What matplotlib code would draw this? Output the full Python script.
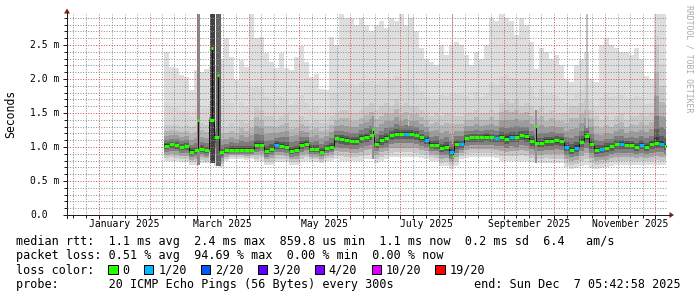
import numpy as np
import pandas as pd
import matplotlib
matplotlib.use("Agg")
import matplotlib.pyplot as plt
import matplotlib.dates as mdates
import matplotlib.transforms as mtransforms
from matplotlib.patches import Rectangle, Polygon
from matplotlib.lines import Line2D

plt.rcParams['font.family'] = ['DejaVu Sans Mono']

# graph window and sample range
t0 = "2024-12-13 00:00"
t1 = "2025-12-08 00:00"
first_bin = "2025-02-09 00:00"
last_sample = "2025-12-07 05:42:58"

# median rtt per 3-day bin (ms)
med = [1.02, 1.04, 1.03, 1.00, 1.01, 0.93, 0.95, 0.97, 0.95, 1.40,
       1.15, 0.92, 0.95, 0.96, 0.96, 0.96, 0.96, 0.96, 1.03, 1.03,
       0.94, 0.97, 1.03, 1.02, 1.00, 0.94, 0.96, 1.03, 1.05, 0.97,
       0.97, 0.93, 0.98, 1.00, 1.13, 1.12, 1.10, 1.09, 1.09, 1.13,
       1.15, 1.18, 1.05, 1.10, 1.13, 1.18, 1.19, 1.19, 1.19, 1.19,
       1.18, 1.14, 1.11, 1.03, 1.03, 0.98, 1.00, 0.92, 1.05, 1.04,
       1.13, 1.14, 1.14, 1.14, 1.15, 1.14, 1.13, 1.15, 1.12, 1.15,
       1.15, 1.18, 1.16, 1.09, 1.06, 1.06, 1.09, 1.09, 1.10, 1.09,
       1.00, 0.96, 0.99, 1.08, 1.16, 1.05, 0.96, 0.97, 0.99, 1.01,
       1.04, 1.04, 1.03, 1.03, 1.00, 1.03, 1.00, 1.04, 1.06, 1.05,
       1.01]

# fastest ping of each bin
lo = [0.80, 0.80, 0.79, 0.78, 0.78, 0.74, 0.74, 0.77, 0.76, 0.76,
      0.72, 0.70, 0.80, 0.82, 0.82, 0.82, 0.81, 0.82, 0.78, 0.80,
      0.74, 0.74, 0.78, 0.78, 0.78, 0.74, 0.74, 0.78, 0.80, 0.78,
      0.78, 0.76, 0.80, 0.80, 0.82, 0.80, 0.80, 0.79, 0.80, 0.80,
      0.82, 0.82, 0.76, 0.80, 0.82, 0.85, 0.86, 0.86, 0.86, 0.86,
      0.85, 0.84, 0.82, 0.80, 0.79, 0.72, 0.72, 0.68, 0.72, 0.82,
      0.84, 0.85, 0.85, 0.85, 0.85, 0.85, 0.84, 0.80, 0.80, 0.80,
      0.79, 0.80, 0.79, 0.78, 0.76, 0.77, 0.77, 0.76, 0.76, 0.76,
      0.70, 0.68, 0.69, 0.72, 0.74, 0.69, 0.68, 0.69, 0.70, 0.72,
      0.73, 0.73, 0.73, 0.74, 0.74, 0.73, 0.74, 0.73, 0.74, 0.73,
      0.74]

# upper edge of the dense part of the smoke
mid = [1.32, 1.33, 1.32, 1.30, 1.32, 1.30, 1.32, 1.35, 1.33, 1.45,
       1.40, 1.30, 1.30, 1.35, 1.30, 1.40, 1.35, 1.40, 1.60, 1.55,
       1.45, 1.45, 1.40, 1.45, 1.50, 1.40, 1.40, 1.45, 1.40, 1.35,
       1.40, 1.35, 1.35, 1.45, 1.50, 1.55, 1.55, 1.50, 1.50, 1.55,
       1.60, 1.65, 1.55, 1.60, 1.65, 1.60, 1.70, 1.60, 1.65, 1.60,
       1.60, 1.55, 1.50, 1.45, 1.50, 1.45, 1.50, 1.50, 1.45, 1.45,
       1.50, 1.50, 1.55, 1.50, 1.50, 1.55, 1.50, 1.65, 1.70, 1.65,
       1.70, 1.60, 1.65, 1.60, 1.55, 1.60, 1.50, 1.55, 1.50, 1.50,
       1.50, 1.60, 1.60, 1.65, 1.70, 1.55, 1.45, 1.40, 1.45, 1.40,
       1.45, 1.50, 1.40, 1.45, 1.45, 1.50, 1.45, 1.50, 2.50, 1.90,
       1.90]

# slowest ping of each bin
hi = [2.40, 2.18, 2.16, 2.06, 2.03, 1.84, 2.13, 2.11, 2.15, 2.20,
      2.20, 2.30, 2.60, 2.33, 1.98, 2.28, 2.18, 2.96, 2.60, 2.62,
      2.38, 2.25, 2.16, 2.38, 2.16, 2.13, 2.33, 2.48, 2.25, 2.03,
      2.08, 1.86, 1.84, 2.62, 2.50, 2.96, 2.90, 2.90, 2.80, 2.90,
      2.80, 2.70, 2.80, 2.85, 2.75, 2.90, 2.85, 2.96, 2.80, 2.90,
      2.70, 2.45, 2.30, 2.25, 2.20, 2.50, 2.35, 2.50, 2.55, 2.50,
      2.35, 2.20, 2.40, 2.30, 2.50, 2.90, 2.85, 2.96, 2.90, 2.85,
      2.65, 2.90, 2.80, 2.55, 2.15, 2.45, 2.40, 2.30, 2.35, 2.20,
      2.00, 1.96, 2.20, 2.30, 2.40, 2.00, 1.95, 2.50, 2.60, 2.50,
      2.45, 2.40, 2.40, 2.35, 2.45, 2.30, 2.05, 2.00, 2.96, 2.96,
      2.96]

# lost pings (of 20) per bin
loss = [0, 0, 0, 0, 0, 0, 0, 0, 0, 0,
        0, 0, 0, 0, 0, 0, 0, 0, 0, 0,
        0, 0, 1, 0, 0, 0, 0, 0, 0, 0,
        0, 0, 0, 0, 0, 0, 0, 0, 0, 0,
        0, 0, 0, 0, 0, 0, 0, 0, 1, 0,
        0, 0, 1, 0, 0, 0, 0, 1, 0, 1,
        0, 0, 0, 0, 0, 0, 1, 0, 0, 1,
        0, 0, 0, 0, 0, 0, 0, 0, 0, 0,
        1, 0, 1, 0, 0, 0, 0, 1, 0, 0,
        0, 1, 0, 0, 0, 1, 0, 0, 0, 1,
        0]

# short bursts of high latency
spike_time = ["2025-03-01 18:00", "2025-03-10 06:00", "2025-03-13 18:00",
              "2025-06-14 12:00", "2025-07-05 18:00", "2025-08-01 12:00",
              "2025-09-20 12:00", "2025-10-21 00:00"]
spike_days = [2.0, 3.0, 3.0, 1.0, 0.6, 0.6, 1.0, 1.2]
spike_med = [1.40, 2.45, 2.06, 1.27, 1.19, 0.87, 1.31, 1.19]
spike_top = [2.96, 2.96, 2.96, 1.45, 2.96, 2.96, 1.55, 2.96]
spike_n = [9, 17, 13, 8, 2, 2, 8, 3]

month_labels = ["January 2025", "March 2025", "May 2025",
                "July 2025", "September 2025", "November 2025"]
month_starts = ["2025-01-01", "2025-03-01", "2025-05-01",
                "2025-07-01", "2025-09-01", "2025-11-01"]
ytick_vals = [0.0, 0.5, 1.0, 1.5, 2.0, 2.5]
ytick_text = ["0.0", "0.5 m", "1.0 m", "1.5 m", "2.0 m", "2.5 m"]

loss_steps = [0, 1, 2, 3, 4, 10, 19]
loss_names = ["0", "1/20", "2/20", "3/20", "4/20", "10/20", "19/20"]
loss_cols = ["#26ff00", "#00b8ff", "#0059ff", "#5e00ff", "#7e00ff", "#dd00ff", "#ff0000"]

line1 = "median rtt:  1.1 ms avg  2.4 ms max  859.8 us min  1.1 ms now  0.2 ms sd  6.4   am/s"
line2 = "packet loss: 0.51 % avg  94.69 % max  0.00 % min  0.00 % now"
line4 = "probe:       20 ICMP Echo Pings (56 Bytes) every 300s"
line4r = "end: Sun Dec  7 05:42:58 2025"


def loss_color(n):
    c = loss_cols[0]
    for s, col in zip(loss_steps, loss_cols):
        if n >= s:
            c = col
    return c


def st(a):
    a = np.asarray(a, float)
    return np.append(a, a[-1])


W, H = 697, 297
fig = plt.figure(figsize=(W / 100, H / 100), dpi=100)
fig.patch.set_facecolor("white")


def fx(px):
    return px / W


def fy(py):
    return 1 - py / H


ax = fig.add_axes([fx(67), fy(215), 600 / W, 201 / H])
ax.set_facecolor("white")

edges = list(pd.date_range(first_bin, periods=len(med), freq="3D")) + [pd.Timestamp(last_sample)]
xe = mdates.date2num(edges)
m = np.asarray(med, float)
l = np.asarray(lo, float)
md = np.asarray(mid, float)
h = np.asarray(hi, float)

kw = dict(step="post", lw=0, antialiased=False)
# light outer smoke
ax.fill_between(xe, st(md + (h - md) * 0.3), st(h), color="#dedede", **kw)
ax.fill_between(xe, st(md), st(md + (h - md) * 0.3), color="#d6d6d6", **kw)

up_f = [0.06, 0.14, 0.28, 0.48, 0.72, 1.0]
up_c = ["#3a3a3a", "#5c5c5c", "#7c7c7c", "#9c9c9c", "#b6b6b6", "#cacaca"]
dn_f = [0.1, 0.22, 0.4, 0.6, 0.8, 1.0]
dn_c = ["#3a3a3a", "#5c5c5c", "#808080", "#a6a6a6", "#c6c6c6", "#dedede"]
for f, c in reversed(list(zip(up_f, up_c))):
    ax.fill_between(xe, st(m), st(m + (md - m) * f), color=c, **kw)
for f, c in reversed(list(zip(dn_f, dn_c))):
    ax.fill_between(xe, st(m - (m - l) * f), st(m), color=c, **kw)

# spikes
sx = mdates.datestr2num(spike_time)
for x, d, smed, top, n in zip(sx, spike_days, spike_med, spike_top, spike_n):
    b = int(np.searchsorted(xe, x) - 1)
    g = 0.85 - 0.035 * n
    y0 = l[b] if n >= 5 else m[b] + 0.12
    ax.fill_between([x - d / 2, x + d / 2], [y0, y0], [top, top],
                    color=str(g), lw=0, antialiased=False, zorder=1.5)
    ax.plot([x, x], [m[b], smed], color="#111111", lw=0.7, zorder=3)
    ax.hlines(smed, x - 0.6, x + 0.6, color="#26ff00", lw=2.2, zorder=4)

# median
ax.step(xe, st(m), where="post", color="#111111", lw=0.7, zorder=3)
ax.hlines(m, xe[:-1], xe[1:], colors=[loss_color(n) for n in loss], lw=2.2, zorder=4)

# grid
months = pd.date_range("2024-12-01", "2026-01-01", freq="MS")
minor_x = []
for a, b in zip(months[:-1], months[1:]):
    for k in (1, 2, 3):
        minor_x.append(a + (b - a) * k / 4)
ax.set_xticks(mdates.date2num(months))
ax.set_xticks(mdates.date2num(minor_x), minor=True)
ax.set_yticks(np.arange(0, 3.0, 0.5))
ax.set_yticks(np.arange(0, 2.95, 0.1), minor=True)
ax.set_xlim(mdates.datestr2num(t0), mdates.datestr2num(t1))
ax.set_ylim(0, 201 / 68)
ax.tick_params(labelbottom=False, labelleft=False)
ax.tick_params(which="major", length=3, width=0.72, color="#1f1f1f", direction="out")
ax.tick_params(which="minor", length=2, width=0.72, color="#1f1f1f", direction="out")
ax.grid(which="minor", color=(0.56, 0.56, 0.56, 0.32), lw=0.72, ls=(0, (1, 1.6)))
ax.grid(which="major", color=(0.87, 0.31, 0.31, 0.35), lw=0.72, ls=(0, (1, 1.6)))
ax.set_axisbelow(False)
for s in ax.spines.values():
    s.set_visible(False)

# axis lines and arrows
fig.add_artist(Line2D([fx(64), fx(670)], [fy(215), fy(215)], color="#1f1f1f", lw=0.72))
fig.add_artist(Line2D([fx(67), fx(67)], [fy(218), fy(12)], color="#1f1f1f", lw=0.72))
fig.add_artist(Polygon([(fx(669.5), fy(212)), (fx(674), fy(215)), (fx(669.5), fy(218))],
                       closed=True, color="#7f1f1f", lw=0))
fig.add_artist(Polygon([(fx(64), fy(13.5)), (fx(67), fy(8.5)), (fx(70), fy(13.5))],
                       closed=True, color="#7f1f1f", lw=0))

# tick labels
ytr = mtransforms.blended_transform_factory(fig.transFigure, ax.transData)
for v, t in zip(ytick_vals, ytick_text):
    ax.text(fx(30), v, t, transform=ytr, ha="left", va="center", fontsize=7, color="black")
xtr = mtransforms.blended_transform_factory(ax.transData, fig.transFigure)
for s, t in zip(month_starts, month_labels):
    a = pd.Timestamp(s)
    b = a + pd.offsets.MonthBegin(1)
    c = mdates.date2num(a + (b - a) / 2)
    ax.text(c, fy(224), t, transform=xtr, ha="center", va="center", fontsize=7, color="black")

fig.text(fx(10.5), fy(114), "Seconds", rotation=90, ha="center", va="center", fontsize=8.3)
fig.text(fx(688.5), fy(5), "RRDTOOL / TOBI OETIKER", rotation=270, ha="center", va="top",
         fontsize=5.9, color="#aaaaaa")

# legend
cw = 7.11
fs = 8.5
fig.text(fx(16), fy(245), line1, ha="left", va="baseline", fontsize=fs)
fig.text(fx(16), fy(259.5), line2, ha="left", va="baseline", fontsize=fs)
fig.text(fx(16), fy(273.5), "loss color:", ha="left", va="baseline", fontsize=fs)
pos = 13
for name, col in zip(loss_names, loss_cols):
    x0 = 16 + pos * cw
    fig.add_artist(Rectangle((fx(x0), fy(274)), 9.5 / W, 9.5 / H, facecolor=col,
                             edgecolor="black", lw=0.72))
    fig.text(fx(16 + (pos + 2) * cw), fy(273.5), name, ha="left", va="baseline", fontsize=fs)
    pos += 2 + len(name) + 2
fig.text(fx(16), fy(288), line4, ha="left", va="baseline", fontsize=fs)
fig.text(fx(681), fy(288), line4r, ha="right", va="baseline", fontsize=fs)

fig.savefig("out.png", dpi=100, facecolor="white")
